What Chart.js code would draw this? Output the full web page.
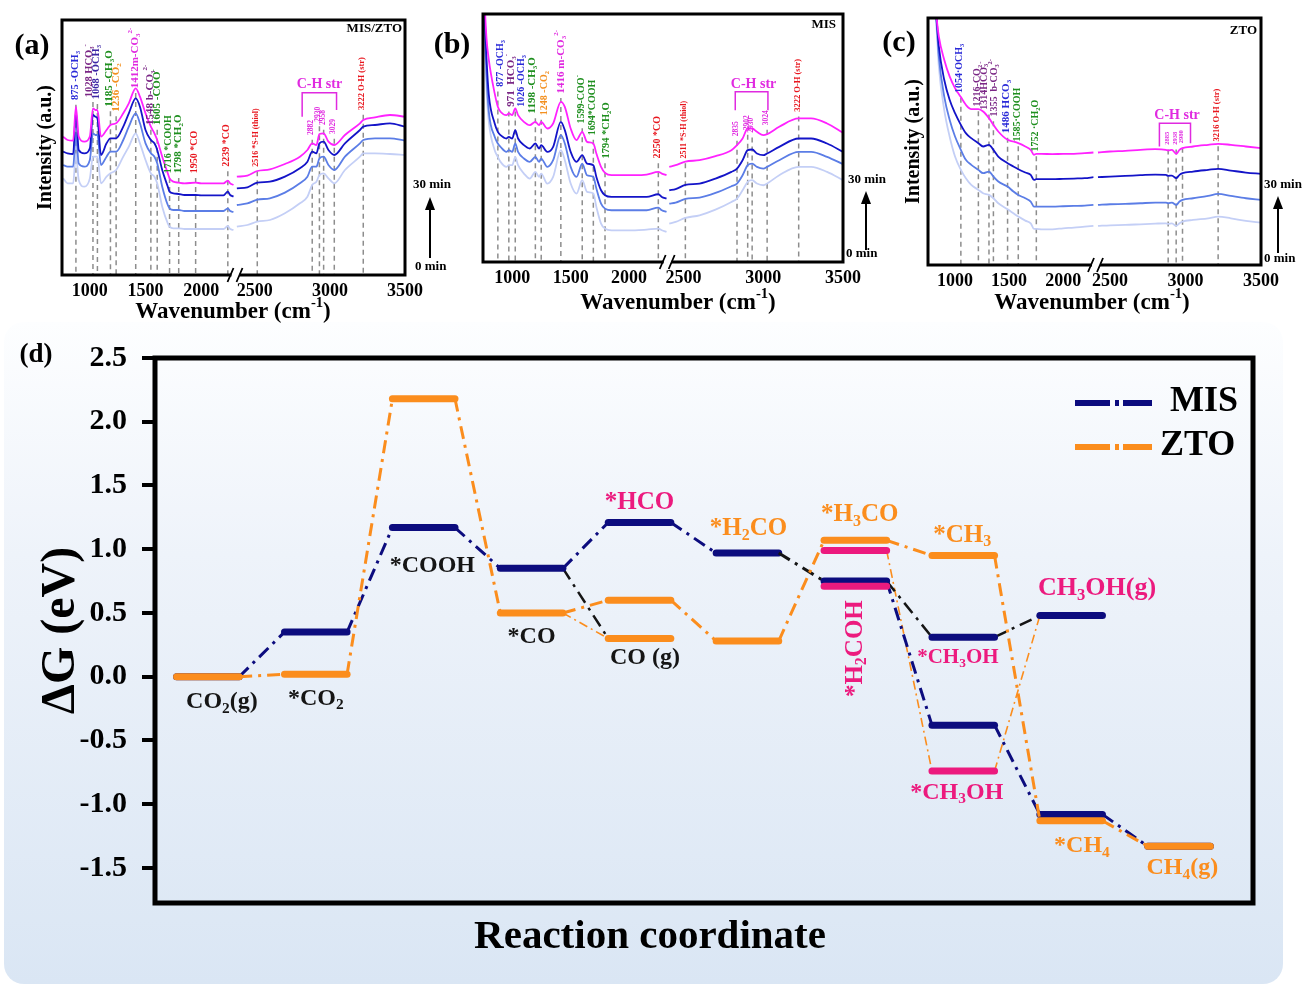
<!DOCTYPE html>
<html><head><meta charset="utf-8"><title>In-situ DRIFTS and free-energy diagram</title>
<script src="https://cdn.jsdelivr.net/npm/chart.js@4.4.1/dist/chart.umd.min.js"></script>
<style>
html,body{margin:0;padding:0;background:#fff;}
#page{position:relative;width:1304px;height:985px;overflow:hidden;background:#fff;}
#bgd{position:absolute;left:4px;top:322px;width:1279px;height:662px;border-radius:20px;background:linear-gradient(180deg,#fdfeff 0%,#eef3fa 35%,#dae6f4 100%);}
canvas{position:absolute;left:0;top:0;}
</style></head>
<body><div id="page"><div id="bgd"></div>
<canvas id="chartA" width="1304" height="985"></canvas>
<canvas id="chartB" width="1304" height="985"></canvas>
<canvas id="chartC" width="1304" height="985"></canvas>
<canvas id="chartD" width="1304" height="985"></canvas>
</div>
<script>
// ================= DATA =================
// shared tick labels (wavenumber, cm-1)
const tickWnLeft = [1000, 1500, 2000];
const tickWnRight = [2500, 3000, 3500];

// ---- (a) MIS/ZTO : 30, 20, 10, 0 min spectra (a.u.)
const wnA_L = [760, 800, 850, 875, 900, 950, 1000, 1028, 1050, 1068, 1100, 1150, 1185, 1236, 1300, 1350, 1412, 1450, 1500, 1548, 1580, 1605, 1650, 1700, 1716, 1750, 1798, 1850, 1950, 2000, 2100, 2200, 2239, 2260, 2290];
const wnA_R = [2380, 2450, 2516, 2600, 2700, 2800, 2850, 2882, 2910, 2930, 2958, 2990, 3029, 3100, 3200, 3222, 3300, 3400, 3500];
const a30_L = [415,405,403,505,415,400,415,500,495,495,415,435,450,455,485,515,560,535,485,445,425,405,355,305,290,280,277,275,277,275,275,275,283,275,270];
const a20_L = [370,365,363,490,375,365,380,480,475,470,360,395,410,410,445,485,530,505,435,405,395,375,315,265,250,245,243,240,240,239,239,239,250,240,235];
const a10_L = [330,325,325,425,335,325,345,425,420,420,330,355,370,370,405,445,485,455,395,365,355,335,265,210,200,195,195,192,192,192,192,192,200,192,189];
const a0_L  = [290,275,275,365,285,265,290,355,355,355,275,295,305,315,355,385,425,395,345,305,295,275,205,155,145,140,140,138,138,138,138,138,147,138,135];
const a30_R = [295,298,312,317,333,355,375,395,390,423,425,400,390,420,455,465,473,480,475];
const a20_R = [260,263,277,280,295,320,340,370,365,395,400,375,360,395,435,445,450,455,445];
const a10_R = [210,215,226,230,247,275,295,325,325,350,355,330,315,355,395,405,410,410,403];
const a0_R  = [145,150,160,165,185,215,235,270,280,300,305,290,275,315,355,365,365,363,360];

// ---- (b) MIS
const wnB_L = [760, 780, 800, 850, 877, 900, 950, 971, 1000, 1026, 1050, 1100, 1150, 1198, 1230, 1248, 1300, 1350, 1416, 1450, 1500, 1550, 1599, 1640, 1694, 1720, 1760, 1794, 1850, 1950, 2050, 2150, 2250, 2280, 2320];
const wnB_R = [2410, 2450, 2511, 2600, 2700, 2800, 2835, 2870, 2902, 2930, 2960, 3000, 3024, 3100, 3222, 3300, 3400, 3500];
const b30_L = [800,670,605,505,465,450,440,445,440,460,440,420,410,420,410,420,400,415,480,465,400,365,390,360,355,325,285,267,260,260,260,262,270,265,260];
const b20_L = [780,610,500,415,390,380,370,375,370,395,370,350,340,355,340,350,330,345,420,395,330,300,320,295,290,255,215,200,195,195,195,195,203,195,190];
const b10_L = [760,560,450,375,355,345,330,335,330,355,330,310,300,315,300,310,285,305,380,355,285,255,295,260,255,220,175,160,155,155,155,155,163,155,150];
const b0_L  = [750,520,420,335,315,300,285,290,290,315,290,265,250,270,255,265,235,255,335,305,235,205,245,210,205,165,115,100,95,95,95,97,100,95,90];
const b30_R = [285,290,301,305,317,335,350,370,400,400,390,380,383,405,430,430,415,387];
const b20_R = [215,218,231,235,250,270,280,305,335,337,325,320,325,345,370,370,355,330];
const b10_R = [175,178,189,193,207,227,235,260,290,295,285,280,285,305,330,330,315,293];
const b0_R  = [115,120,132,140,157,180,190,215,240,245,235,230,235,260,285,285,270,245];

// ---- (c) ZTO
const wnC_L = [800, 830, 850, 900, 950, 1000, 1054, 1100, 1150, 1216, 1260, 1314, 1355, 1400, 1486, 1540, 1585, 1650, 1700, 1730, 1752, 1800, 1900, 2000, 2100, 2200, 2280];
const wnC_R = [2420, 2500, 2600, 2700, 2800, 2870, 2885, 2910, 2938, 2960, 2980, 3050, 3150, 3216, 3300, 3400, 3500];
const c30_L = [865,740,685,615,565,530,503,480,467,467,460,440,420,400,375,370,365,355,345,330,333,333,332,333,333,335,337];
const c20_L = [845,735,655,555,495,455,420,395,380,365,355,360,345,325,305,295,287,277,270,255,257,257,257,258,259,260,263];
const c10_L = [825,725,625,505,435,385,345,315,300,285,275,280,265,250,235,220,210,200,190,175,175,175,175,176,177,178,180];
const c0_L  = [805,705,595,465,385,325,285,260,240,225,215,210,200,185,167,155,145,133,125,108,108,107,107,110,112,115,117];
const c30_R = [337,340,342,345,347,345,343,345,333,345,350,355,360,363,360,355,350];
const c20_R = [263,265,267,269,271,270,267,268,260,270,275,280,285,288,283,277,273];
const c10_R = [180,182,183,185,187,187,185,187,180,190,195,200,207,213,207,200,195];
const c0_R  = [117,119,120,122,124,125,123,125,117,125,130,135,140,145,140,132,127];

// ---- (d) free energy diagram (eV)
const steps = [1, 2, 3, 4, 5, 6, 7, 8, 9, 10];
const misG = [0.00, 0.35, 1.17, 0.85, 1.21, 0.97, 0.75, -0.38, -1.08, -1.33];
const ztoG = [0.00, 0.02, 2.18, 0.50, 0.60, 0.28, 1.07, 0.95, -1.13, -1.33];
const misMeohG = [[8, 0.31], [9, 0.48]];          // *CH3OH, CH3OH(g)
const coGasG = [[5, 0.30]];                        // CO(g)
const pinkG = [[7, 0.99], [7, 0.71], [8, -0.74]];  // *H3CO / *H2COH / *CH3OH
const blackLinks = [[4, 0.85, 5, 0.30], [7, 0.75, 8, 0.31], [8, 0.31, 9, 0.48]];
const thinZtoLinks = [[4, 0.50, 5, 0.30], [7, 0.99, 8, -0.74], [8, -0.74, 9, 0.48]];
const misBlackConnectors = [6];
const dTicks = [-1.5, -1.0, -0.5, 0.0, 0.5, 1.0, 1.5, 2.0, 2.5];

// ================= STYLE =================
const FAM = '"Liberation Serif", "Times New Roman", serif';
const C30 = '#ff22ff', C20 = '#1414c8', C10 = '#5b7de6', C0 = '#c4cff6';
const BL = '#2a2ad8', PU = '#7a2685', GR = '#1f8f1f', OR = '#f39020', MG = '#e02ae0', RD = '#e8161e', BP = '#3b25a5';
const NAVY = '#0c0c7e', ORANGE = '#fb8d1d', PINK = '#ec1a7e';

function parseRich(s) {
  const runs = []; let i = 0, cur = '';
  while (i < s.length) {
    const ch = s[i];
    if (ch === '_' || ch === '^') {
      if (cur) { runs.push({t: cur, m: 'n'}); cur = ''; }
      let t;
      if (s[i + 1] === '{') { const j = s.indexOf('}', i + 2); t = s.slice(i + 2, j); i = j + 1; }
      else { t = s[i + 1]; i += 2; }
      runs.push({t, m: ch === '_' ? 'sub' : 'sup'});
    } else { cur += ch; i++; }
  }
  if (cur) runs.push({t: cur, m: 'n'});
  return runs;
}
function drawRich(ctx, s, x, y, size, color, align, rot) {
  const runs = parseRich(s);
  const fonts = {n: `bold ${size}px ${FAM}`, sub: `bold ${(size * 0.64).toFixed(1)}px ${FAM}`, sup: `bold ${(size * 0.64).toFixed(1)}px ${FAM}`};
  const offs = {n: 0, sub: size * 0.28, sup: -size * 0.38};
  let w = 0;
  ctx.save();
  runs.forEach(r => { ctx.font = fonts[r.m]; r.w = ctx.measureText(r.t).width; w += r.w; });
  ctx.translate(x, y); if (rot) ctx.rotate(rot);
  let cx = align === 'center' ? -w / 2 : (align === 'right' ? -w : 0);
  ctx.fillStyle = color; ctx.textBaseline = 'middle'; ctx.textAlign = 'left';
  runs.forEach(r => { ctx.font = fonts[r.m]; ctx.fillText(r.t, cx, offs[r.m]); cx += r.w; });
  ctx.restore();
}
function wnPx(chart, wn) {
  const L = chart.scales.xL;
  return wn <= L.max ? L.getPixelForValue(wn) : chart.scales.xR.getPixelForValue(wn);
}
function timeArrow(ctx, a) {
  ctx.save();
  ctx.strokeStyle = '#000'; ctx.fillStyle = '#000'; ctx.lineWidth = 2;
  ctx.beginPath(); ctx.moveTo(a.x, a.yBot); ctx.lineTo(a.x, a.yTop + 10); ctx.stroke();
  ctx.beginPath(); ctx.moveTo(a.x, a.yTop); ctx.lineTo(a.x - 5, a.yTop + 13); ctx.lineTo(a.x + 5, a.yTop + 13); ctx.closePath(); ctx.fill();
  ctx.restore();
  drawRich(ctx, '30 min', a.tx, a.t30, 13, '#000', 'left', 0);
  drawRich(ctx, '0 min', a.tx0, a.t0, 13, '#000', 'left', 0);
}

// ================= SPECTRA =================
// [wavenumber, label, colour, label-start intensity, font px, text x-shift px]
const labA = [
  [875, '875 -OCH_3', BL, 525, 10.5, 0], [1028, '1028 HCO_3^-', PU, 533, 10.5, -3], [1068, '1068 -OCH_3', BP, 527, 10.5, 0],
  [1185, '1185 -CH_3O', GR, 505, 11, 0], [1236, '1236 -CO_2', OR, 490, 11, 1], [1412, '1412m-CO_3^{2-}', MG, 560, 11, 0],
  [1548, '1548 b-CO_3^{2-}', PU, 450, 11, 0], [1605, '1605 -COO^-', GR, 450, 11, 1], [1716, '1716 *COOH', GR, 305, 10, 0],
  [1798, '1798 *CH_2O', GR, 305, 11, 0], [1950, '1950 *CO', RD, 305, 10, 0], [2239, '2239 *CO', RD, 325, 10, 0],
  [2516, '2516 *S-H (thiol)', RD, 325, 8, 0], [2882, '2882', MG, 420, 7.5, 0], [2930, '2930', MG, 460, 7.5, 0],
  [2958, '2958', MG, 450, 7.5, 0], [3029, '3029', MG, 423, 7.5, 0], [3222, '3222 O-H (str)', RD, 495, 8.5, 0]
];
const labB = [
  [877, '877 -OCH_3', BL, 525, 10, 4], [971, '971  HCO_3^-', PU, 465, 11, 3], [1026, '1026 -OCH_3', BL, 465, 10, 7],
  [1198, '1198 -CH_3O', GR, 445, 11, -2], [1248, '1248 -CO_2', OR, 440, 10, 4], [1416, '1416 m-CO_3^{2-}', MG, 505, 11, 1],
  [1599, '1599-COO^-', GR, 415, 10, 0], [1694, '1694*COOH', GR, 380, 10, 0], [1794, '1794 *CH_2O', GR, 310, 10.5, 2],
  [2250, '2250 *CO', RD, 310, 10, 0], [2511, '2511 *S-H (thiol)', RD, 310, 8, 0], [2835, '2835', MG, 377, 7.5, 0],
  [2902, '2902', MG, 395, 7.5, 0], [2930, '2930', MG, 387, 7.5, 0], [3024, '3024', MG, 410, 7.5, 0], [3222, '3222 O-H (str)', RD, 450, 8.5, 0]
];
const labC = [
  [1054, '1054·OCH_3', BL, 515, 10, 0], [1216, '1216-CO_2', PU, 475, 10, 0], [1314, '1314HCO_3^-', PU, 465, 10, -4],
  [1355, '1355  b-CO_3^{2-}', PU, 445, 10, 2], [1486, '1486 HCO_3', BL, 395, 11, 0], [1585, '1585·COOH', GR, 370, 10, 0],
  [1752, '1752 ·CH_2O', GR, 340, 10, 0], [2885, '2885', MG, 360, 6.5, 0], [2938, '2938', MG, 360, 6.5, 0],
  [2980, '2980', MG, 365, 6.5, 0], [3216, '3216 O-H (str)', RD, 370, 8.5, 0]
];

const panels = [
  {id: 'chartA', letter: '(a)', lx: 32, ly: 46, name: 'MIS/ZTO', nx: 402, ny: 29,
   wnL: wnA_L, wnR: wnA_R, curves: [[a30_L, a30_R, C30], [a20_L, a20_R, C20], [a10_L, a10_R, C10], [a0_L, a0_R, C0]],
   brkL: 2308, brkR: 2371, wL: 520, wR: 508, ymax: 765, ytitle: true, yw: 28,
   pad: {left: 34, right: 899, top: 20, bottom: 670}, labels: labA,
   bracket: [2815, 3044, 547, 475, 495, 2930, 572], title: [233, 312],
   arrow: {x: 430, yTop: 197, yBot: 258, tx: 413, t30: 185, tx0: 415, t0: 267}},
  {id: 'chartB', letter: '(b)', lx: 452, ly: 45, name: 'MIS', nx: 836, ny: 25,
   wnL: wnB_L, wnR: wnB_R, curves: [[b30_L, b30_R, C30], [b20_L, b20_R, C20], [b10_L, b10_R, C10], [b0_L, b0_R, C0]],
   brkL: 2330, brkR: 2400, wL: 553, wR: 525, ymax: 743, ytitle: false, yw: 0,
   pad: {left: 483, right: 461, top: 14, bottom: 683}, labels: labB,
   bracket: [2824, 3029, 510, 455, 455, 2939, 532], title: [678, 303],
   arrow: {x: 866, yTop: 191, yBot: 250, tx: 848, t30: 180, tx0: 846, t0: 254}},
  {id: 'chartC', letter: '(c)', lx: 899, ly: 43, name: 'ZTO', nx: 1257, ny: 31,
   wnL: wnC_L, wnR: wnC_R, curves: [[c30_L, c30_R, C30], [c20_L, c20_R, C20], [c10_L, c10_R, C10], [c0_L, c0_R, C0]],
   brkL: 2304, brkR: 2407, wL: 501, wR: 492, ymax: 740, ytitle: true, yw: 26,
   pad: {left: 902, right: 43, top: 18, bottom: 680}, labels: labC,
   bracket: [2827, 3033, 425, 355, 365, 2944, 447], title: [1092, 303],
   arrow: {x: 1278, yTop: 196, yBot: 253, tx: 1264, t30: 185, tx0: 1264, t0: 259}}
];

function specPlugin(P) {
  return {
    id: 'spec' + P.id,
    beforeDatasetsDraw(chart) {
      const {ctx, chartArea: ca} = chart, ys = chart.scales.y;
      ctx.save();
      ctx.strokeStyle = '#8d8d8d'; ctx.lineWidth = 1.5; ctx.setLineDash([5, 4]);
      P.labels.forEach(l => {
        const px = wnPx(chart, l[0]);
        ctx.beginPath(); ctx.moveTo(px, ys.getPixelForValue(l[3] - 14)); ctx.lineTo(px, ca.bottom); ctx.stroke();
      });
      ctx.restore();
    },
    afterDatasetsDraw(chart) {
      const {ctx, chartArea: ca} = chart, ys = chart.scales.y;
      ctx.save();
      ctx.lineWidth = 3; ctx.strokeStyle = '#000';
      ctx.strokeRect(ca.left, ca.top, ca.right - ca.left, ca.bottom - ca.top);
      const bx = chart.scales.xL.right;
      ctx.fillStyle = '#fff'; ctx.fillRect(bx - 4, ca.bottom - 3, 8, 7);
      ctx.lineWidth = 1.8; ctx.beginPath();
      ctx.moveTo(bx - 8, ca.bottom + 7); ctx.lineTo(bx - 2, ca.bottom - 7);
      ctx.moveTo(bx + 1, ca.bottom + 7); ctx.lineTo(bx + 7, ca.bottom - 7);
      ctx.stroke();
      ctx.restore();
      P.labels.forEach(l => drawRich(ctx, l[1], wnPx(chart, l[0]) - 1 + (l[5] || 0), ys.getPixelForValue(l[3]), l[4], l[2], 'left', -Math.PI / 2));
      const b = P.bracket, bx0 = wnPx(chart, b[0]), bx1 = wnPx(chart, b[1]);
      ctx.save(); ctx.strokeStyle = MG; ctx.lineWidth = 1.5; ctx.beginPath();
      ctx.moveTo(bx0, ys.getPixelForValue(b[3])); ctx.lineTo(bx0, ys.getPixelForValue(b[2]));
      ctx.lineTo(bx1, ys.getPixelForValue(b[2])); ctx.lineTo(bx1, ys.getPixelForValue(b[4])); ctx.stroke(); ctx.restore();
      drawRich(ctx, 'C-H str', wnPx(chart, b[5]), ys.getPixelForValue(b[6]), 14, MG, 'center', 0);
      drawRich(ctx, P.name, P.nx, P.ny, 13, '#000', 'right', 0);
      drawRich(ctx, P.letter, P.lx, P.ly, 30, '#000', 'center', 0);
      drawRich(ctx, 'Wavenumber (cm^{-1})', P.title[0], P.title[1], 23, '#000', 'center', 0);
      timeArrow(ctx, P.arrow);
    }
  };
}

function xAxis(P, side) {
  const left = side === 'L';
  return {
    type: 'linear', position: 'bottom', stack: 'wn', stackWeight: left ? P.wL : P.wR,
    min: left ? 750 : P.brkR, max: left ? P.brkL : 3500,
    afterBuildTicks: s => { s.ticks = (left ? tickWnLeft : tickWnRight).map(v => ({value: v})); },
    afterFit: s => { s.height = 40; s.paddingLeft = 0; s.paddingRight = 0; },
    grid: {display: false, drawTicks: false}, border: {display: false},
    ticks: {color: '#000', padding: 6, maxRotation: 0, autoSkip: false, callback: v => String(v),
            font: {family: FAM, size: 18, weight: 'bold'}}
  };
}

panels.forEach(P => {
  const datasets = [];
  P.curves.forEach(([L, R, col]) => {
    const base = {borderColor: col, borderWidth: 1.8, pointRadius: 0, fill: false, cubicInterpolationMode: 'monotone'};
    datasets.push(Object.assign({data: P.wnL.map((w, i) => ({x: w, y: L[i]})), xAxisID: 'xL', yAxisID: 'y'}, base));
    datasets.push(Object.assign({data: P.wnR.map((w, i) => ({x: w, y: R[i]})), xAxisID: 'xR', yAxisID: 'y'}, base));
  });
  new Chart(document.getElementById(P.id), {
    type: 'line',
    data: {datasets},
    options: {
      responsive: false, animation: false, devicePixelRatio: 1, events: [],
      layout: {padding: P.pad},
      plugins: {legend: {display: false}, tooltip: {enabled: false}},
      scales: {
        xL: xAxis(P, 'L'),
        xR: xAxis(P, 'R'),
        y: {type: 'linear', min: 0, max: P.ymax, display: P.ytitle,
            afterFit: s => { s.width = P.yw; s.paddingTop = 0; s.paddingBottom = 0; },
            ticks: {display: false}, grid: {display: false, drawTicks: false}, border: {display: false},
            title: {display: true, text: 'Intensity (a.u.)', padding: 0, color: '#000', font: {family: FAM, size: 20, weight: 'bold'}}}
      }
    },
    plugins: [specPlugin(P)]
  });
});

// ================= (d) ENERGY DIAGRAM =================
const W = 0.29;
const DASH = [13, 6, 3, 6];
function levelSeq(levels) {
  const pts = [];
  levels.forEach((v, i) => { pts.push({x: steps[i] - W, y: v}, {x: steps[i] + W, y: v}); });
  return pts;
}
function barPts(list) {
  const pts = [];
  list.forEach(([s, v], i) => { if (i) pts.push({x: s - W - 0.05, y: null}); pts.push({x: s - W, y: v}, {x: s + W, y: v}); });
  return pts;
}
function linkPts(links) {
  const pts = [];
  links.forEach(([s0, v0, s1, v1], i) => { if (i) pts.push({x: s0, y: null}); pts.push({x: s0 + W, y: v0}, {x: s1 - W, y: v1}); });
  return pts;
}
function segStyle(color, blackIdx) {
  return {
    borderWidth: c => c.p0DataIndex % 2 === 0 ? 7 : 3,
    borderDash: c => c.p0DataIndex % 2 === 0 ? [] : DASH,
    borderCapStyle: c => c.p0DataIndex % 2 === 0 ? 'round' : 'butt',
    borderColor: c => (c.p0DataIndex % 2 === 1 && blackIdx.includes((c.p0DataIndex + 1) / 2)) ? '#151515' : color
  };
}
const dLabels = [
  {t: 'CO_2(g)', s: 1.13, v: -0.20, c: '#151515', z: 24},
  {t: '*CO_2', s: 2.0, v: -0.17, c: '#151515', z: 24},
  {t: '*COOH', s: 3.08, v: 0.87, c: '#151515', z: 24},
  {t: '*CO', s: 4.0, v: 0.31, c: '#151515', z: 24},
  {t: 'CO (g)', s: 5.05, v: 0.15, c: '#151515', z: 24},
  {t: '*HCO', s: 5.0, v: 1.37, c: PINK, z: 25},
  {t: '*H_2CO', s: 6.01, v: 1.16, c: ORANGE, z: 25},
  {t: '*H_3CO', s: 7.04, v: 1.27, c: ORANGE, z: 25},
  {t: '*CH_3', s: 7.99, v: 1.11, c: ORANGE, z: 25},
  {t: 'CH_3OH(g)', s: 9.24, v: 0.69, c: PINK, z: 26},
  {t: '*H_2COH', s: 7.0, v: 0.22, c: PINK, z: 25, r: -Math.PI / 2},
  {t: '*CH_3OH', s: 7.95, v: 0.15, c: PINK, z: 21},
  {t: '*CH_3OH', s: 7.94, v: -0.91, c: PINK, z: 24},
  {t: '*CH_4', s: 9.1, v: -1.33, c: ORANGE, z: 24},
  {t: 'CH_4(g)', s: 10.03, v: -1.50, c: ORANGE, z: 24}
];
const dPlugin = {
  id: 'dDecor',
  afterDatasetsDraw(chart) {
    const {ctx, chartArea: ca, scales: {x, y}} = chart;
    ctx.save(); ctx.lineWidth = 5; ctx.strokeStyle = '#000';
    ctx.strokeRect(ca.left, ca.top, ca.right - ca.left, ca.bottom - ca.top);
    ctx.lineCap = 'butt'; ctx.lineWidth = 6;
    [[NAVY, 403], [ORANGE, 447]].forEach(([col, yy]) => {
      ctx.strokeStyle = col; ctx.beginPath(); ctx.moveTo(1075, yy); ctx.lineTo(1110, yy); ctx.moveTo(1115, yy); ctx.lineTo(1119, yy); ctx.moveTo(1123, yy); ctx.lineTo(1152, yy); ctx.stroke();
    });
    ctx.restore();
    drawRich(ctx, 'MIS', 1170, 402, 36, '#000', 'left', 0);
    drawRich(ctx, 'ZTO', 1160, 446, 36, '#000', 'left', 0);
    dLabels.forEach(l => drawRich(ctx, l.t, x.getPixelForValue(l.s), y.getPixelForValue(l.v), l.z, l.c, 'center', l.r || 0));
    drawRich(ctx, 'Reaction coordinate', 650, 937, 41, '#000', 'center', 0);
    drawRich(ctx, '(d)', 36, 355, 27, '#000', 'center', 0);
  }
};
new Chart(document.getElementById('chartD'), {
  type: 'line',
  data: {datasets: [
    {label: 'intermediates', data: barPts(pinkG), borderColor: PINK, borderWidth: 7, borderCapStyle: 'round', pointRadius: 0},
    {label: 'ZTO', data: levelSeq(ztoG), borderColor: ORANGE, pointRadius: 0, segment: segStyle(ORANGE, [])},
    {label: 'MIS', data: levelSeq(misG), borderColor: NAVY, pointRadius: 0, segment: segStyle(NAVY, misBlackConnectors)},
    {label: 'MIS CH3OH', data: barPts(misMeohG), borderColor: NAVY, borderWidth: 7, borderCapStyle: 'round', pointRadius: 0},
    {label: 'CO(g)', data: barPts(coGasG), borderColor: ORANGE, borderWidth: 7, borderCapStyle: 'round', pointRadius: 0},
    {label: 'MIS links', data: linkPts(blackLinks), borderColor: '#151515', borderWidth: 2.5, borderDash: DASH, pointRadius: 0},
    {label: 'ZTO links', data: linkPts(thinZtoLinks), borderColor: ORANGE, borderWidth: 1.6, borderDash: [9, 4, 2, 4], pointRadius: 0}
  ]},
  options: {
    responsive: false, animation: false, devicePixelRatio: 1, events: [],
    layout: {padding: {left: 33, right: 51, top: 358, bottom: 82}},
    plugins: {legend: {display: false}, tooltip: {enabled: false}},
    scales: {
      x: {type: 'linear', min: 0.51, max: 10.685, display: false},
      y: {type: 'linear', min: -1.775, max: 2.5,
          afterBuildTicks: s => { s.ticks = dTicks.map(v => ({value: v})); },
          afterFit: s => { s.width = 122; s.paddingTop = 0; s.paddingBottom = 0; },
          grid: {display: true, drawOnChartArea: false, drawTicks: true, tickLength: 13, lineWidth: 4, color: '#000'},
          border: {display: false},
          ticks: {color: '#000', padding: 15, callback: v => v.toFixed(1), font: {family: FAM, size: 30, weight: 'bold'}},
          title: {display: true, text: 'ΔG (eV)', padding: 0, color: '#000', font: {family: FAM, size: 48, weight: 'bold'}}}
    }
  },
  plugins: [dPlugin]
});
</script></body></html>
